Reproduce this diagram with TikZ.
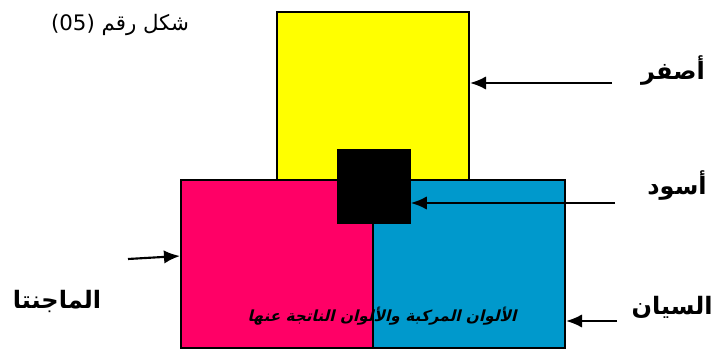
\documentclass[tikz,border=0pt]{standalone}
\usepackage{fontspec}
\usetikzlibrary{arrows.meta}
\setmainfont{DejaVu Sans}
\newfontfamily\arabicfont[Script=Arabic]{DejaVu Sans}
\newfontfamily\arabicslant[Script=Arabic,FakeSlant=0.25]{DejaVu Sans}
\TeXXeTstate=1
\definecolor{myyellow}{HTML}{FFFF00}
\definecolor{mymagenta}{HTML}{FF0066}
\definecolor{mycyan}{HTML}{0099CC}
\tikzset{
  colbox/.style={draw, line width=1.5pt, inner sep=0pt, anchor=north west},
  lbl/.style={font=\arabicfont\bfseries\fontsize{18}{21}\selectfont, inner sep=0pt},
  arr/.style={-{Latex[length=12pt,width=10pt]}, line width=1.6pt},
}
\begin{document}
\begin{tikzpicture}[x=0.75pt, y=-0.75pt]
      \useasboundingbox (0,0) rectangle (717,349);

      % Colour boxes
      \node (yellow) [colbox, fill=myyellow, minimum width=144pt, minimum height=126.75pt] at (276,11) {};
      \node (magenta) [colbox, fill=mymagenta, minimum width=144pt, minimum height=126pt] at (180,179) {};
      \node (cyan) [colbox, fill=mycyan, minimum width=144pt, minimum height=126pt] at (372,179) {};
      \node (black) [colbox, line width=0.6pt, fill=black, minimum width=54.75pt, minimum height=55.5pt] at (337,149) {};

      % Caption and text
      \node (caption) at (120,25) {\arabicfont\fontsize{16}{18}\selectfont\beginR شكل رقم \beginL(05)\endL\endR};
      \node (mixed) at (382,316) {\arabicslant\bfseries\fontsize{11.5}{13}\selectfont\beginR الألوان المركبة والألوان الناتجة عنها\endR};

      % Labels
      \node (lyellow) [lbl] at (673,71) {\beginR أصفر\endR};
      \node (lblack) [lbl] at (677,186) {\beginR أسود\endR};
      \node (lcyan) [lbl] at (672,307) {\beginR السيان\endR};
      \node (lmagenta) [lbl] at (57,301) {\beginR الماجنتا\endR};

      % Arrow tails
      \coordinate (tyellow) at (612,83);
      \coordinate (tblack) at (615,203);
      \coordinate (tcyan) at (617,321);
      \coordinate (tmagenta) at (128,259);

      % Arrows
      \draw[arr] (tyellow) -- (yellow.east |- tyellow);
      \draw[arr] (tblack) -- (black.east |- tblack);
      \draw[arr] (tcyan) -- (cyan.east |- tcyan);
      \draw[arr] (tmagenta) -- (180,256);
   \end{tikzpicture}
\end{document}
